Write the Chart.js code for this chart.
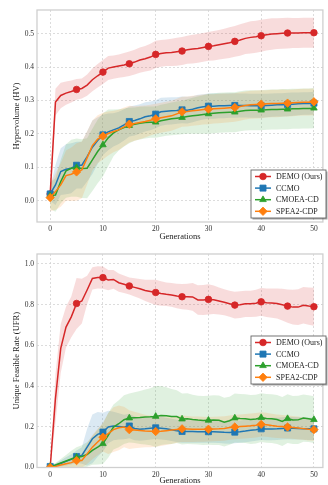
<!DOCTYPE html>
<html>
<head>
<meta charset="utf-8">
<script src="https://cdn.jsdelivr.net/npm/chart.js@4.4.1/dist/chart.umd.min.js"></script>
<style>
  html, body { margin: 0; padding: 0; background: #fff; }
  canvas { position: absolute; left: 0; }
  #hv { top: 0; }
  #ufr { top: 242px; }
</style>
</head>
<body>
<canvas id="hv" width="328" height="242"></canvas>
<canvas id="ufr" width="328" height="243"></canvas>
<script>
// generations on the x axis
const generations = [0, 1, 2, 3, 4, 5, 6, 7, 8, 9, 10, 11, 12, 13, 14, 15, 16, 17, 18, 19, 20,
  21, 22, 23, 24, 25, 26, 27, 28, 29, 30, 31, 32, 33, 34, 35, 36, 37, 38, 39, 40,
  41, 42, 43, 44, 45, 46, 47, 48, 49, 50];
const algorithms = ["DEMO (Ours)", "CCMO", "CMOEA-CD", "SPEA2-CDP"];

const xTicks = [0, 10, 20, 30, 40, 50];
const hvTicks = [0, 0.1, 0.2, 0.3, 0.4, 0.5];
const ufrTicks = [0, 0.2, 0.4, 0.6, 0.8, 1.0];

// Hypervolume (mean, spread)
const hvDemo = [0.020, 0.295, 0.315, 0.322, 0.327, 0.333, 0.336, 0.346, 0.362, 0.374, 0.385,
  0.397, 0.400, 0.403, 0.406, 0.410, 0.415, 0.421, 0.425, 0.430, 0.438,
  0.441, 0.443, 0.444, 0.446, 0.448, 0.452, 0.454, 0.456, 0.459, 0.462,
  0.464, 0.467, 0.470, 0.473, 0.477, 0.481, 0.486, 0.489, 0.491, 0.494,
  0.497, 0.499, 0.500, 0.501, 0.502, 0.502, 0.502, 0.503, 0.503, 0.503];
const hvDemoSd = [0.020, 0.040, 0.038, 0.035, 0.033, 0.031, 0.030, 0.032, 0.034, 0.035, 0.036,
  0.036, 0.035, 0.035, 0.036, 0.037, 0.037, 0.038, 0.038, 0.040, 0.041,
  0.040, 0.040, 0.041, 0.042, 0.042, 0.042, 0.043, 0.043, 0.043, 0.043,
  0.044, 0.044, 0.045, 0.046, 0.046, 0.047, 0.047, 0.048, 0.048, 0.048,
  0.047, 0.047, 0.046, 0.046, 0.046, 0.045, 0.045, 0.045, 0.045, 0.045];
const hvCcmo = [0.020, 0.047, 0.087, 0.094, 0.097, 0.106, 0.106, 0.132, 0.160, 0.180, 0.197,
  0.206, 0.212, 0.218, 0.227, 0.237, 0.240, 0.245, 0.251, 0.254, 0.259,
  0.266, 0.268, 0.269, 0.270, 0.272, 0.271, 0.274, 0.278, 0.281, 0.283,
  0.283, 0.284, 0.284, 0.285, 0.285, 0.285, 0.285, 0.284, 0.284, 0.284,
  0.285, 0.286, 0.287, 0.287, 0.288, 0.289, 0.290, 0.291, 0.291, 0.292];
const hvCcmoSd = [0.020, 0.060, 0.070, 0.075, 0.075, 0.070, 0.070, 0.075, 0.080, 0.070, 0.060,
  0.055, 0.050, 0.048, 0.047, 0.045, 0.045, 0.044, 0.044, 0.043, 0.042,
  0.042, 0.041, 0.041, 0.040, 0.040, 0.040, 0.039, 0.039, 0.038, 0.038,
  0.038, 0.037, 0.037, 0.037, 0.037, 0.036, 0.036, 0.036, 0.036, 0.036,
  0.035, 0.035, 0.035, 0.035, 0.035, 0.035, 0.034, 0.034, 0.034, 0.034];
const hvCmoea = [0.015, 0.017, 0.057, 0.089, 0.097, 0.099, 0.096, 0.097, 0.122, 0.147, 0.167,
  0.188, 0.203, 0.212, 0.219, 0.225, 0.229, 0.232, 0.234, 0.235, 0.235,
  0.239, 0.242, 0.245, 0.247, 0.249, 0.252, 0.254, 0.256, 0.258, 0.260,
  0.262, 0.263, 0.264, 0.265, 0.265, 0.268, 0.270, 0.271, 0.271, 0.271,
  0.272, 0.273, 0.273, 0.274, 0.274, 0.275, 0.275, 0.276, 0.276, 0.277];
const hvCmoeaSd = [0.040, 0.050, 0.065, 0.080, 0.085, 0.087, 0.088, 0.090, 0.093, 0.095, 0.095,
  0.085, 0.070, 0.062, 0.057, 0.053, 0.050, 0.049, 0.048, 0.047, 0.047,
  0.048, 0.048, 0.049, 0.050, 0.050, 0.052, 0.054, 0.056, 0.058, 0.060,
  0.060, 0.060, 0.060, 0.060, 0.060, 0.060, 0.060, 0.060, 0.060, 0.060,
  0.060, 0.060, 0.060, 0.060, 0.060, 0.060, 0.060, 0.060, 0.060, 0.060];
const hvSpea2 = [0.009, 0.027, 0.047, 0.075, 0.079, 0.086, 0.092, 0.128, 0.165, 0.184, 0.193,
  0.201, 0.207, 0.212, 0.221, 0.229, 0.231, 0.234, 0.237, 0.241, 0.245,
  0.248, 0.251, 0.254, 0.260, 0.266, 0.267, 0.269, 0.271, 0.273, 0.274,
  0.275, 0.276, 0.277, 0.278, 0.279, 0.282, 0.285, 0.287, 0.288, 0.289,
  0.290, 0.291, 0.291, 0.292, 0.292, 0.293, 0.294, 0.295, 0.295, 0.296];
const hvSpea2Sd = [0.040, 0.055, 0.065, 0.075, 0.080, 0.086, 0.085, 0.080, 0.075, 0.072, 0.070,
  0.066, 0.062, 0.060, 0.058, 0.055, 0.052, 0.050, 0.048, 0.046, 0.045,
  0.045, 0.045, 0.045, 0.045, 0.045, 0.045, 0.045, 0.045, 0.045, 0.045,
  0.044, 0.044, 0.044, 0.043, 0.043, 0.043, 0.042, 0.042, 0.042, 0.042,
  0.041, 0.041, 0.041, 0.041, 0.040, 0.040, 0.040, 0.040, 0.040, 0.040];

// Unique Feasible Rate (mean, spread)
const ufrDemo = [0.000, 0.340, 0.585, 0.690, 0.740, 0.806, 0.818, 0.872, 0.929, 0.934, 0.933,
  0.921, 0.924, 0.908, 0.900, 0.892, 0.885, 0.878, 0.870, 0.865, 0.860,
  0.855, 0.851, 0.848, 0.843, 0.839, 0.839, 0.838, 0.823, 0.823, 0.826,
  0.824, 0.818, 0.812, 0.805, 0.798, 0.800, 0.804, 0.804, 0.807, 0.814,
  0.809, 0.808, 0.806, 0.800, 0.793, 0.788, 0.788, 0.797, 0.793, 0.790];
const ufrDemoSd = [0.000, 0.120, 0.120, 0.100, 0.100, 0.125, 0.110, 0.070, 0.055, 0.055, 0.055,
  0.050, 0.046, 0.045, 0.043, 0.042, 0.045, 0.048, 0.052, 0.057, 0.062,
  0.060, 0.058, 0.058, 0.060, 0.062, 0.064, 0.068, 0.072, 0.074, 0.074,
  0.070, 0.066, 0.064, 0.064, 0.066, 0.066, 0.064, 0.064, 0.066, 0.068,
  0.070, 0.072, 0.074, 0.078, 0.082, 0.085, 0.088, 0.090, 0.092, 0.093];
const ufrCcmo = [0.005, 0.010, 0.020, 0.030, 0.040, 0.054, 0.059, 0.100, 0.141, 0.163, 0.174,
  0.199, 0.204, 0.202, 0.199, 0.204, 0.192, 0.188, 0.190, 0.193, 0.195,
  0.193, 0.190, 0.185, 0.180, 0.177, 0.177, 0.177, 0.176, 0.176, 0.176,
  0.176, 0.175, 0.173, 0.172, 0.174, 0.176, 0.179, 0.183, 0.186, 0.190,
  0.189, 0.189, 0.190, 0.192, 0.194, 0.193, 0.192, 0.191, 0.190, 0.190];
const ufrCcmoSd = [0.005, 0.010, 0.015, 0.020, 0.025, 0.030, 0.040, 0.090, 0.120, 0.110, 0.095,
  0.080, 0.070, 0.065, 0.060, 0.060, 0.058, 0.057, 0.056, 0.056, 0.055,
  0.055, 0.055, 0.055, 0.055, 0.055, 0.055, 0.055, 0.055, 0.055, 0.055,
  0.055, 0.055, 0.055, 0.055, 0.055, 0.055, 0.055, 0.055, 0.055, 0.055,
  0.055, 0.055, 0.055, 0.055, 0.055, 0.055, 0.055, 0.055, 0.055, 0.055];
const ufrCmoea = [0.005, 0.012, 0.022, 0.032, 0.042, 0.050, 0.054, 0.064, 0.084, 0.100, 0.117,
  0.158, 0.199, 0.215, 0.235, 0.243, 0.245, 0.246, 0.248, 0.249, 0.251,
  0.256, 0.254, 0.251, 0.250, 0.238, 0.240, 0.236, 0.233, 0.231, 0.232,
  0.233, 0.232, 0.223, 0.230, 0.243, 0.241, 0.240, 0.236, 0.238, 0.245,
  0.241, 0.240, 0.236, 0.226, 0.240, 0.233, 0.234, 0.243, 0.240, 0.235];
const ufrCmoeaSd = [0.005, 0.010, 0.020, 0.030, 0.040, 0.050, 0.055, 0.060, 0.070, 0.085, 0.100,
  0.110, 0.110, 0.115, 0.120, 0.120, 0.125, 0.130, 0.135, 0.140, 0.150,
  0.145, 0.140, 0.135, 0.130, 0.125, 0.125, 0.122, 0.120, 0.120, 0.120,
  0.122, 0.122, 0.120, 0.118, 0.120, 0.120, 0.120, 0.120, 0.120, 0.120,
  0.120, 0.120, 0.120, 0.120, 0.120, 0.118, 0.118, 0.116, 0.115, 0.115];
const ufrSpea2 = [0.000, 0.005, 0.012, 0.018, 0.024, 0.034, 0.034, 0.067, 0.100, 0.125, 0.149,
  0.166, 0.186, 0.195, 0.199, 0.186, 0.184, 0.182, 0.179, 0.178, 0.177,
  0.178, 0.181, 0.184, 0.187, 0.190, 0.189, 0.188, 0.188, 0.188, 0.188,
  0.189, 0.190, 0.192, 0.196, 0.199, 0.201, 0.203, 0.205, 0.208, 0.212,
  0.210, 0.206, 0.203, 0.201, 0.199, 0.197, 0.194, 0.191, 0.188, 0.186];
const ufrSpea2Sd = [0.003, 0.008, 0.012, 0.018, 0.024, 0.030, 0.035, 0.050, 0.060, 0.065, 0.070,
  0.100, 0.110, 0.110, 0.100, 0.095, 0.090, 0.085, 0.080, 0.078, 0.075,
  0.072, 0.070, 0.068, 0.066, 0.065, 0.064, 0.063, 0.062, 0.061, 0.060,
  0.060, 0.060, 0.060, 0.060, 0.060, 0.060, 0.060, 0.060, 0.060, 0.060,
  0.059, 0.058, 0.058, 0.057, 0.057, 0.056, 0.056, 0.055, 0.055, 0.055];

const FONT = "'Liberation Serif', 'DejaVu Serif', 'Times New Roman', serif";
const colors = ["#d62728", "#1f77b4", "#2ca02c", "#ff7f0e"];
const bandColors = ["rgba(214,39,40,0.16)", "rgba(31,119,180,0.16)", "rgba(44,160,44,0.15)", "rgba(255,127,14,0.15)"];
const markers = [
  { style: "circle", radius: 3.3 },
  { style: "rect", radius: 4.3 },
  { style: "triangle", radius: 3.8 },
  { style: "rectRot", radius: 4.2 }
];

const pts = (arr) => arr.map((v, i) => ({ x: generations[i], y: v }));

function buildDatasets(means, sds) {
  const bands = [];
  const lines = [];
  means.forEach((m, k) => {
    bands.push({
      label: "_band", data: pts(m.map((v, i) => v - sds[k][i])),
      borderWidth: 0, pointRadius: 0, fill: false, order: 14 - k
    });
    bands.push({
      label: "_band", data: pts(m.map((v, i) => v + sds[k][i])),
      borderWidth: 0, pointRadius: 0, fill: "-1", backgroundColor: bandColors[k], order: 14 - k
    });
    lines.push({
      label: algorithms[k], data: pts(m),
      borderColor: colors[k], backgroundColor: colors[k],
      borderWidth: 1.5, fill: false, tension: 0,
      pointStyle: markers[k].style,
      pointRadius: (ctx) => generations[ctx.dataIndex] % 5 === 0 ? markers[k].radius : 0,
      pointBorderWidth: 0.8,
      order: 4 - k
    });
  });
  return bands.concat(lines);
}

const framePlugin = {
  id: "frame",
  afterDraw(chart) {
    const { ctx, chartArea: a } = chart;
    ctx.save();
    ctx.strokeStyle = "#cfcfcf";
    ctx.lineWidth = 1.3;
    ctx.strokeRect(a.left, a.top, a.right - a.left, a.bottom - a.top);
    ctx.restore();
  }
};

const boxLegend = {
  id: "boxLegend",
  afterDraw(chart, args, opts) {
    const { ctx } = chart;
    const x = opts.x, y = opts.y, w = 75, h = 48;
    ctx.save();
    ctx.fillStyle = "rgba(0,0,0,0.35)";
    ctx.fillRect(x + 1.5, y + 1.5, w, h);
    ctx.fillStyle = "#fff";
    ctx.fillRect(x, y, w, h);
    ctx.strokeStyle = "#666";
    ctx.lineWidth = 0.9;
    ctx.strokeRect(x, y, w, h);
    const items = chart.data.datasets.filter(d => d.label !== "_band");
    items.forEach((d, i) => {
      const cy = y + 6.5 + i * 11.6;
      ctx.strokeStyle = d.borderColor;
      ctx.fillStyle = d.borderColor;
      ctx.lineWidth = 1.5;
      ctx.beginPath();
      ctx.moveTo(x + 4, cy);
      ctx.lineTo(x + 20, cy);
      ctx.stroke();
      ctx.lineWidth = 0.8;
      Chart.helpers.drawPoint(ctx, {
        pointStyle: d.pointStyle, radius: markers[i].radius, rotation: 0, borderWidth: 0.8
      }, x + 12, cy);
      ctx.fillStyle = "#222";
      ctx.font = "8px " + FONT;
      ctx.textBaseline = "middle";
      ctx.textAlign = "left";
      ctx.fillText(d.label, x + 25, cy + 0.5);
    });
    ctx.restore();
  }
};

function makeChart(id, cfg) {
  return new Chart(document.getElementById(id), {
    type: "line",
    data: { datasets: buildDatasets(cfg.means, cfg.sds) },
    options: {
      responsive: false,
      animation: false,
      devicePixelRatio: 1,
      events: [],
      layout: { padding: { top: cfg.padTop, right: 1, left: 0, bottom: 0 } },
      plugins: {
        legend: { display: false },
        tooltip: { enabled: false },
        boxLegend: cfg.legend
      },
      scales: {
        x: {
          type: "linear", min: -2.5, max: 51.7,
          afterBuildTicks: (s) => { s.ticks = xTicks.map(v => ({ value: v })); },
          afterFit: (s) => { s.height = cfg.xHeight; },
          grid: { color: "#d4d4d4", lineWidth: 0.8, drawTicks: false },
          border: { display: false, dash: [2, 2] },
          ticks: { font: { family: FONT, size: 7.5 }, color: "#333", padding: 3, maxRotation: 0 },
          title: {
            display: true, text: "Generations", color: "#222",
            font: { family: FONT, size: 8.5, lineHeight: 1 },
            padding: { top: 0, bottom: cfg.xTitlePad }
          }
        },
        y: {
          min: cfg.yMin, max: cfg.yMax,
          afterBuildTicks: (s) => { s.ticks = cfg.yTicks.map(v => ({ value: v })); },
          afterFit: (s) => { s.width = 37; },
          grid: { color: "#d4d4d4", lineWidth: 0.8, drawTicks: false },
          border: { display: false, dash: [2, 2] },
          ticks: {
            font: { family: FONT, size: 7.5 }, color: "#333", padding: 3,
            callback: (v) => Number(v).toFixed(1)
          },
          title: {
            display: true, text: cfg.yTitle, color: "#222",
            font: { family: FONT, size: 8.5, lineHeight: 1 },
            padding: { top: 12.75, bottom: 0 }
          }
        }
      }
    },
    plugins: [framePlugin, boxLegend]
  });
}

makeChart("hv", {
  means: [hvDemo, hvCcmo, hvCmoea, hvSpea2],
  sds: [hvDemoSd, hvCcmoSd, hvCmoeaSd, hvSpea2Sd],
  yMin: -0.064, yMax: 0.571, yTicks: hvTicks,
  yTitle: "Hypervolume (HV)",
  padTop: 10, xHeight: 20, xTitlePad: 1.25,
  legend: { x: 251, y: 170 }
});

makeChart("ufr", {
  means: [ufrDemo, ufrCcmo, ufrCmoea, ufrSpea2],
  sds: [ufrDemoSd, ufrCcmoSd, ufrCmoeaSd, ufrSpea2Sd],
  yMin: 0, yMax: 1.049, yTicks: ufrTicks,
  yTitle: "Unique Feasible Rate (UFR)",
  padTop: 12, xHeight: 17.5, xTitlePad: 0.25,
  legend: { x: 251, y: 94 }
});
</script>
</body>
</html>
